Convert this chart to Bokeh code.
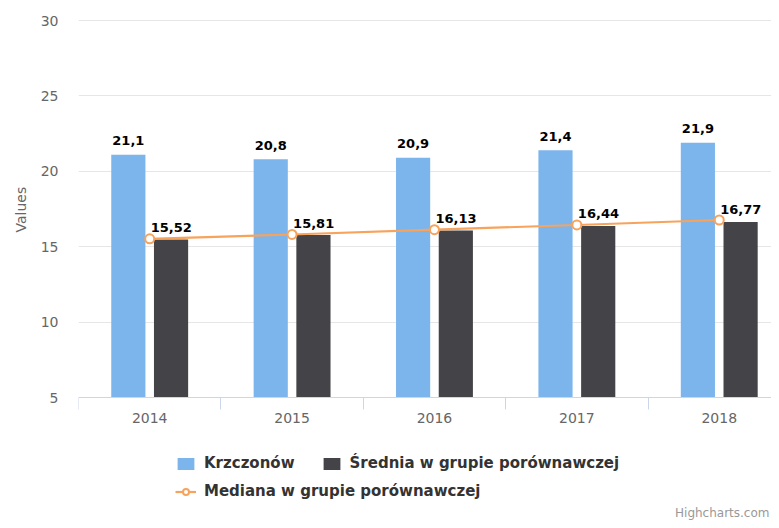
import numpy as np
from bokeh.plotting import figure
from bokeh.models import (Range1d, FixedTicker, Legend, LegendItem, Label,
                          Title, ColumnDataSource)
from bokeh.embed import file_html
from bokeh.resources import INLINE

years = ["2014", "2015", "2016", "2017", "2018"]
krzczonow = [21.1, 20.8, 20.9, 21.4, 21.9]
srednia = [15.48, 15.77, 16.07, 16.38, 16.63]
mediana = [15.52, 15.81, 16.13, 16.44, 16.77]
krz_labels = ["21,1", "20,8", "20,9", "21,4", "21,9"]
med_labels = ["15,52", "15,81", "16,13", "16,44", "16,77"]
y_ticks = [5, 10, 15, 20, 25, 30]
Y_MIN, Y_MAX = 5, 30

BLUE = "#7cb5ec"
DARK = "#434348"
ORANGE = "#f7a35c"
FONT = "DejaVu Sans"

centers = np.arange(len(years)) + 0.5
bar_w = 0.24
off = 0.15

src = ColumnDataSource(dict(
    xc=centers, xb=centers - off, xd=centers + off,
    krz=krzczonow, sre=srednia, med=mediana,
    krz_lab=krz_labels, med_lab=med_labels,
))

# frame spans from 19px to the bottom of the canvas; y=30 at 20px, y=5 at 397px
px_per_unit = 377 / 25
p = figure(width=771, height=520, output_backend="svg", toolbar_location=None,
           x_range=Range1d(0, 4.867),
           y_range=Range1d(Y_MIN - 123 / px_per_unit, Y_MAX + 1 / px_per_unit),
           min_border_left=78, min_border_right=0, min_border_top=19,
           min_border_bottom=0)
p.outline_line_color = None
p.background_fill_color = "white"
p.border_fill_color = "white"

r_blue = p.vbar(x="xb", top="krz", bottom=Y_MIN, width=bar_w, source=src,
                fill_color=BLUE, line_color=None)
r_dark = p.vbar(x="xd", top="sre", bottom=Y_MIN, width=bar_w, source=src,
                fill_color=DARK, line_color=None)
r_line = p.line(x="xc", y="med", source=src, line_color=ORANGE, line_width=2.2)
r_pts = p.scatter(x="xc", y="med", source=src, size=9, marker="circle",
                  fill_color="white", line_color=ORANGE, line_width=2)

p.text(x="xb", y="krz", text="krz_lab", source=src, y_offset=-14,
       text_align="center", text_baseline="alphabetic",
       text_font={"value": FONT}, text_font_style="bold",
       text_font_size="13px", text_color="#000000")
p.text(x="xc", y="med", text="med_lab", source=src, x_offset=1, y_offset=-11,
       text_align="left", text_baseline="alphabetic",
       text_font={"value": FONT}, text_font_style="bold",
       text_font_size="13px", text_color="#000000")

# x axis drawn at y = 5
xa = p.xaxis[0]
xa.fixed_location = Y_MIN
xa.ticker = FixedTicker(ticks=list(centers),
                        minor_ticks=list(np.arange(len(years) + 1)))
xa.major_label_overrides = {float(c): y for c, y in zip(centers, years)}
xa.major_tick_line_color = None
xa.major_tick_out = 0
xa.major_tick_in = 0
xa.minor_tick_line_color = "#ccd6eb"
xa.minor_tick_out = 12
xa.minor_tick_in = 0
xa.axis_line_color = "#ccd6eb"
xa.major_label_standoff = 3
xa.major_label_text_font = FONT
xa.major_label_text_font_size = "14px"
xa.major_label_text_color = "#666666"

# y axis
ya = p.yaxis[0]
ya.ticker = FixedTicker(ticks=y_ticks, minor_ticks=[])
ya.axis_line_color = None
ya.major_tick_line_color = None
ya.major_tick_out = 0
ya.major_tick_in = 0
ya.minor_tick_line_color = None
ya.major_label_standoff = 20
ya.major_label_text_font = FONT
ya.major_label_text_font_size = "14px"
ya.major_label_text_color = "#666666"

y_title = Title(text="Values", align="left", offset=288,
                text_font=FONT, text_font_size="14px",
                text_font_style="normal", text_color="#666666", standoff=18)
p.add_layout(y_title, "left")

p.xgrid.grid_line_color = None
p.ygrid.ticker = FixedTicker(ticks=y_ticks[1:])
p.ygrid.grid_line_color = "#e6e6e6"
p.ygrid.grid_line_width = 1


def style_legend(lg):
    lg.orientation = "horizontal"
    lg.spacing = 26
    lg.glyph_width = 21
    lg.glyph_height = 15
    lg.label_standoff = 8
    lg.padding = 0
    lg.margin = 0
    lg.border_line_color = None
    lg.background_fill_alpha = 0
    lg.label_text_font = FONT
    lg.label_text_font_style = "bold"
    lg.label_text_font_size = "15px"
    lg.label_text_color = "#333333"
    lg.label_height = 20


leg1 = Legend(items=[LegendItem(label="Krzczonów", renderers=[r_blue]),
                     LegendItem(label="Średnia w grupie porównawczej", renderers=[r_dark])],
              location=(97, 47))
leg2 = Legend(items=[LegendItem(label="Mediana w grupie porównawczej",
                                renderers=[r_line, r_pts])],
              location=(97, 19))
style_legend(leg1)
style_legend(leg2)
p.add_layout(leg1, "center")
p.add_layout(leg2, "center")

credit = Label(x=691, y=8, x_units="screen", y_units="screen",
               text="Highcharts.com", text_align="right",
               text_font=FONT, text_font_size="12px",
               text_color="#999999", text_baseline="alphabetic")
p.add_layout(credit)

open("out.html", "w").write(file_html(p, INLINE))
